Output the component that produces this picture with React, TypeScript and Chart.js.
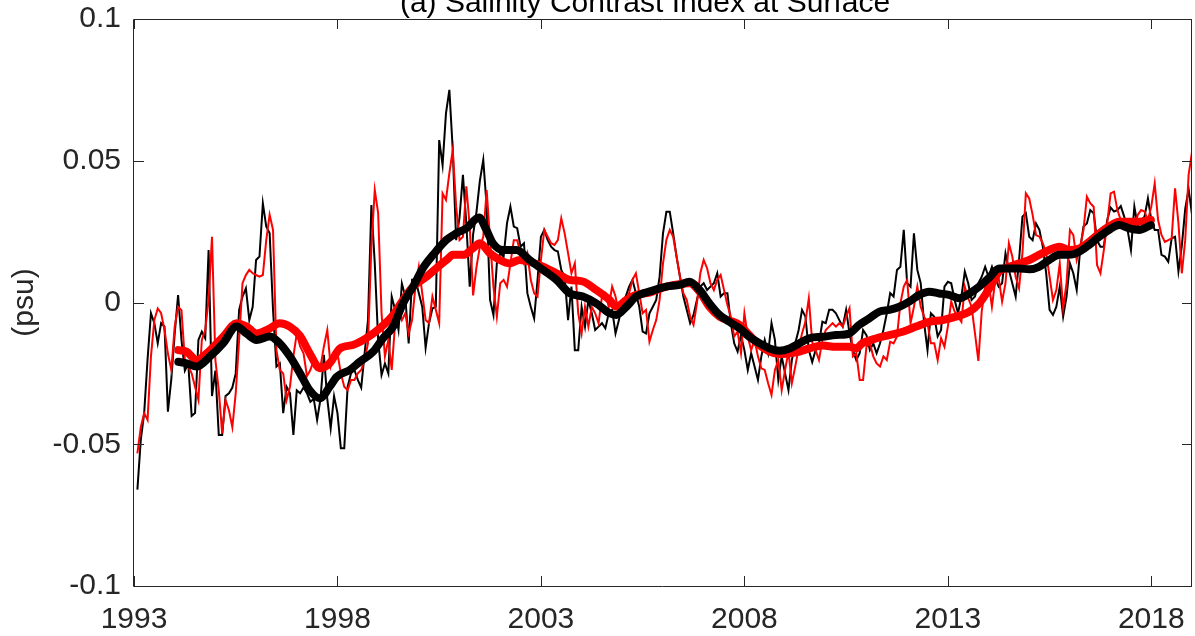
import { useEffect, useRef } from 'react';
import { Chart, registerables } from 'chart.js';

Chart.register(...registerables);

const TITLE = '(a) Salinity Contrast Index at Surface';
const Y_TITLE = '(psu)';
const X_MIN = 1993;
const X_MAX = 2019;
const Y_MIN = -0.1;
const Y_MAX = 0.1;
const xTickValues = [1993, 1998, 2003, 2008, 2013, 2018];
const yTickValues = [-0.1, -0.05, 0, 0.05, 0.1];
const yTickLabels = ['-0.1', '-0.05', '0', '0.05', '0.1'];

// Monthly series, first value = first month of 1993
const MONTHLY_START = 1993;

const blackMonthly = [
  -0.066, -0.0485, -0.039, -0.020, -0.0038, -0.0073, -0.0144, -0.0073, -0.0085, -0.0385, -0.027, -0.011,
  0.0026, -0.0132, -0.024, -0.0215, -0.040, -0.039, -0.0132, -0.0103, -0.0126, 0.0185, -0.033, -0.024,
  -0.0467, -0.0467, -0.033, -0.032, -0.030, -0.025, -0.0026, 0.0021, 0.005, -0.0062, -0.0015, 0.015,
  0.0162, 0.035, 0.0268, 0.0244, -0.0026, -0.0226, -0.0215, -0.039, -0.0297, -0.032, -0.0467, -0.031,
  -0.032, -0.030, -0.032, -0.035, -0.034, -0.0414, -0.034, -0.0185, -0.034, -0.0444, -0.033, -0.039,
  -0.0514, -0.0514, -0.0297, -0.025, -0.0238, -0.0273, -0.030, -0.018, -0.0062, 0.0344, 0.0138, -0.0132,
  -0.0256, -0.0215, -0.025, 0.0021, -0.0026, -0.0097, 0.0067, 0.0021, -0.0144, 0.008, 0.008, 0.0033,
  -0.0015, -0.016, -0.0073, -0.0021, -0.0015, 0.0573, 0.0485, 0.0667, 0.075, 0.0538, 0.022, 0.030,
  0.045, 0.0279, 0.0056, 0.024, 0.032, 0.043, 0.0503, 0.0338, 0.0009, -0.0044, 0.0138, 0.0174,
  0.0162, 0.028, 0.0338, 0.0268, 0.0262, 0.0197, 0.0209, 0.0033, -0.0015, -0.0056, 0.008, 0.0232,
  0.0256, 0.022, 0.0197, 0.0185, 0.018, 0.0115, 0.0091, -0.0062, 0.0056, -0.0168, -0.0168, -0.0015,
  -0.0085, 0.0009, -0.0038, -0.0097, -0.0085, -0.0073, -0.0091, -0.0038, -0.0026, -0.0109, -0.0062, -0.0003,
  0.0021, 0.0056, 0.008, 0.0033, -0.0015, -0.0103, -0.0109, -0.0038, -0.0015, 0.0009, 0.0091, 0.0244,
  0.032, 0.032, 0.0244, 0.0162, 0.0091, 0.0021, -0.0026, -0.0073, -0.0044, 0.0009, 0.0056, 0.0068,
  0.0044, 0.0056, 0.0068, 0.0103, 0.0021, 0.0033, 0.0033, -0.0073, -0.0144, -0.0173, -0.0115, -0.0168,
  -0.0238, -0.0179, -0.0226, -0.0273, -0.019, -0.0132, -0.0179, -0.0073, -0.0132, -0.0273, -0.019, -0.025,
  -0.0309, -0.0203, -0.0144, -0.0097, -0.0026, -0.005, -0.0168, -0.021, -0.0168, -0.0144, -0.0068, -0.0073,
  -0.0026, -0.0026, -0.0038, -0.0062, -0.0085, -0.0026, -0.0109, -0.0168, -0.0203, -0.0179, -0.0097, -0.0115,
  -0.0168, -0.0144, -0.0179, -0.0144, -0.0097, -0.0038, 0.0033, 0.0021, 0.0115, 0.0126, 0.0256, 0.0068,
  0.0056, 0.0244, 0.0115, 0.0068, -0.0073, -0.0168, -0.0038, -0.005, -0.012, -0.0097, 0.0056, 0.0073,
  0.0068, 0.0009, -0.0038, 0.0021, 0.0109, 0.0068, 0.0009, 0.0021, 0.0068, 0.0091, 0.0126, 0.0091,
  0.0126, 0.0085, 0.0056, 0.0068, 0.0173, 0.0115, 0.0068, 0.0021, 0.015, 0.0303, 0.0315, 0.0232,
  0.022, 0.0279, 0.0256, 0.0197, 0.0103, -0.0026, -0.0044, -0.0015, 0.0056, -0.005, 0.0021, 0.0138,
  0.0103, 0.0044, 0.0185, 0.0268, 0.0279, 0.0326, 0.0315, 0.022, 0.0197, 0.0197, 0.0291, 0.0335,
  0.0321, 0.0326, 0.034, 0.0303, 0.0256, 0.0185, 0.0338, 0.0268, 0.0291, 0.0303, 0.0367, 0.0291,
  0.0256, 0.0256, 0.0168, 0.0162, 0.0144, 0.0226, 0.0232, 0.011, 0.020, 0.033, 0.040, 0.031,
];

const redMonthly = [
  -0.0532, -0.044, -0.039, -0.0414, -0.019, -0.0062, -0.0021, -0.0038, -0.0097, -0.018, -0.0238, -0.0085,
  -0.0015, -0.0027, -0.0203, -0.0226, -0.025, -0.0297, -0.0344, -0.0132, -0.0097, 0.0009, 0.0232, -0.0203,
  -0.031, -0.0462, -0.0344, -0.038, -0.044, -0.032, -0.0132, 0.0068, 0.0097, 0.0115, 0.0103, 0.0097,
  0.0091, 0.0097, 0.022, 0.031, 0.0256, -0.0168, -0.0238, -0.025, -0.0344, -0.0297, -0.019, -0.0109,
  -0.0155, -0.0179, -0.026, -0.0238, -0.0203, -0.0226, -0.0226, -0.0155, -0.0097, -0.0226, -0.019, -0.0179,
  -0.025, -0.0297, -0.0309, -0.0273, -0.0273, -0.025, -0.0238, -0.0203, -0.0144, 0.0197, 0.0397, 0.0315,
  -0.0038, -0.019, -0.0132, -0.0238, -0.0073, -0.0026, -0.0062, -0.0038, -0.0109, -0.0062, 0.0056, 0.0126,
  0.0033, -0.0062, -0.0073, 0.0021, -0.0026, -0.0073, 0.0385, 0.0362, 0.0456, 0.0538, 0.0338, 0.022,
  0.0232, 0.041, 0.0268, 0.0025, 0.0126, 0.0197, 0.0232, 0.0397, 0.022, 0.0056, -0.005, 0.0068,
  0.008, 0.0056, 0.0138, 0.022, 0.022, 0.0174, 0.0138, 0.0174, 0.008, 0.0033, 0.0021, 0.015,
  0.0256, 0.0232, 0.0209, 0.0203, 0.022, 0.0297, 0.0244, 0.0174, 0.0103, 0.0138, -0.0038, -0.0109,
  -0.0015, -0.0085, -0.0015, -0.0038, -0.0073, 0.0021, 0.0033, -0.0015, 0.0056, 0.0021, -0.0038, -0.0015,
  -0.0003, 0.0033, 0.008, 0.0103, 0.0033, -0.0038, -0.0026, -0.0138, -0.0097, -0.0062, 0.0009, 0.0138,
  0.0221, 0.0256, 0.0232, 0.0162, 0.0091, 0.0033, 0.0009, -0.005, -0.0079, -0.0003, 0.0103, 0.015,
  0.0121, 0.0068, 0.0044, 0.008, 0.0097, 0.0044, -0.0009, -0.005, -0.012, -0.0103, -0.0179, -0.0038,
  -0.012, -0.0168, -0.0132, -0.019, -0.0232, -0.0238, -0.0285, -0.0326, -0.0238, -0.0203, -0.0309, -0.0238,
  -0.0173, -0.0285, -0.0226, -0.0162, -0.0109, -0.0068, 0.0015, -0.014, -0.0168, -0.0203, -0.0132, -0.0097,
  -0.0085, -0.0073, -0.0085, -0.0073, -0.0085, -0.005, -0.002, -0.019, -0.0179, -0.0273, -0.0273, -0.0156,
  -0.0144, -0.019, -0.0215, -0.0226, -0.019, -0.0203, -0.0138, -0.0144, -0.012, -0.0003, 0.0056, 0.008,
  -0.0073, -0.0015, 0.0056, -0.0015, -0.005, -0.0073, -0.0144, -0.0144, -0.0203, -0.0126, -0.0156, -0.0085,
  0.0003, -0.0032, -0.005, -0.0068, 0.0056, 0.0015, -0.0015, -0.0109, -0.0206, -0.003, 0.0056, 0.0073,
  -0.0015, 0.008, 0.0085, 0.0003, 0.0068, 0.0209, 0.0162, 0.0091, 0.005, 0.0174, 0.0385, 0.0367,
  0.0309, 0.0238, 0.0232, 0.0209, 0.0174, 0.0091, 0.0009, 0.0044, 0.0138, -0.0021, 0.0068, 0.0256,
  0.0238, 0.015, 0.0197, 0.0256, 0.0373, 0.035, 0.0338, 0.0132, 0.0103, 0.0185, 0.0279, 0.0385,
  0.0391, 0.0326, 0.0291, 0.0279, 0.0291, 0.0291, 0.0268, 0.0309, 0.0326, 0.0321, 0.0291, 0.0338,
  0.042, 0.0291, 0.0238, 0.0214, 0.022, 0.0226, 0.0403, 0.028, 0.0103, 0.022, 0.045, 0.053,
];

// Smoothed (running-mean) curves
const blackSmoothYears = [
  1994.09, 1994.29, 1994.54, 1994.87, 1995.19, 1995.52, 1995.77, 1996.01, 1996.34, 1996.58, 1996.83,
  1997.08, 1997.32, 1997.57, 1997.81, 1997.98, 1998.30, 1998.55, 1998.88, 1999.12, 1999.37, 1999.61,
  1999.86, 2000.10, 2000.35, 2000.68, 2000.92, 2001.17, 2001.48, 2001.66, 2001.82, 2002.07, 2002.40,
  2002.72, 2003.05, 2003.38, 2003.70, 2004.03, 2004.36, 2004.69, 2004.85, 2005.10, 2005.34, 2005.70,
  2006.08, 2006.41, 2006.65, 2006.90, 2007.14, 2007.39, 2007.63, 2007.88, 2008.12, 2008.37, 2008.62,
  2008.86, 2009.11, 2009.35, 2009.60, 2009.92, 2010.25, 2010.58, 2010.82, 2011.07, 2011.32, 2011.56,
  2011.81, 2012.05, 2012.30, 2012.54, 2012.79, 2013.03, 2013.28, 2013.53, 2013.77, 2014.02, 2014.26,
  2014.51, 2014.75, 2015.00, 2015.24, 2015.49, 2015.74, 2015.98, 2016.23, 2016.47, 2016.72, 2016.96,
  2017.21, 2017.45, 2017.70, 2017.99,
];
const blackSmoothValues = [
  -0.0209, -0.0215, -0.0226, -0.019, -0.0144, -0.0085, -0.011, -0.0132, -0.012, -0.0144, -0.019,
  -0.025, -0.031, -0.0338, -0.0297, -0.0262, -0.0238, -0.0209, -0.0173, -0.0126, -0.0085, -0.0003,
  0.0056, 0.0121, 0.0168, 0.0221, 0.0244, 0.0262, 0.0300, 0.0256, 0.0209, 0.0185, 0.0185,
  0.015, 0.0115, 0.008, 0.0033, 0.0021, -0.0003, -0.0038, -0.0044, -0.0015, 0.0021, 0.004,
  0.0056, 0.0062, 0.0073, 0.0044, -0.0003, -0.0044, -0.0068, -0.0091, -0.0121, -0.0144, -0.0162,
  -0.017, -0.0162, -0.0144, -0.0126, -0.0121, -0.0115, -0.0109, -0.0079, -0.0056, -0.0032, -0.0026,
  -0.0015, 0.0003, 0.0027, 0.0038, 0.0032, 0.0027, 0.0015, 0.0032, 0.0056, 0.0088, 0.012,
  0.012, 0.012, 0.0117, 0.0126, 0.015, 0.0168, 0.0168, 0.0179, 0.0203, 0.0232, 0.0256,
  0.0273, 0.0262, 0.0256, 0.0273,
];

const redSmoothYears = [
  1994.09, 1994.29, 1994.54, 1994.87, 1995.19, 1995.52, 1995.77, 1996.01, 1996.34, 1996.58, 1996.83,
  1997.08, 1997.32, 1997.57, 1997.81, 1998.06, 1998.38, 1998.71, 1999.04, 1999.37, 1999.61, 1999.86,
  2000.19, 2000.43, 2000.68, 2000.84, 2001.09, 2001.33, 2001.50, 2001.74, 2001.99, 2002.23, 2002.48,
  2002.72, 2003.05, 2003.38, 2003.70, 2004.03, 2004.36, 2004.69, 2004.85, 2005.10, 2005.34, 2005.67,
  2006.08, 2006.65, 2006.90, 2007.14, 2007.39, 2007.88, 2008.12, 2008.37, 2008.62, 2008.86, 2009.11,
  2009.35, 2009.60, 2009.92, 2010.25, 2010.58, 2010.74, 2010.90, 2011.23, 2011.56, 2011.89, 2012.22,
  2012.54, 2012.87, 2013.20, 2013.53, 2013.77, 2014.02, 2014.26, 2014.51, 2014.75, 2015.00, 2015.24,
  2015.49, 2015.74, 2015.98, 2016.23, 2016.47, 2016.72, 2016.96, 2017.21, 2017.45, 2017.70, 2017.99,
];
const redSmoothValues = [
  -0.0168, -0.0173, -0.0203, -0.0168, -0.0121, -0.0073, -0.0085, -0.0109, -0.0091, -0.0073, -0.0085,
  -0.0118, -0.018, -0.0232, -0.0214, -0.0162, -0.015, -0.0126, -0.0091, -0.0044, 0.0009, 0.0056,
  0.0091, 0.0121, 0.015, 0.0168, 0.0168, 0.0191, 0.0209, 0.0174, 0.015, 0.0138, 0.015,
  0.0144, 0.0126, 0.0103, 0.008, 0.0074, 0.0044, 0.0009, -0.0015, 0.0009, 0.0027, 0.0035,
  0.0056, 0.0068, 0.0038, -0.0015, -0.005, -0.0079, -0.0115, -0.015, -0.0173, -0.0182, -0.0179,
  -0.0173, -0.0162, -0.0152, -0.0156, -0.0156, -0.0162, -0.0144, -0.0127, -0.0115, -0.0103, -0.0085,
  -0.0068, -0.0062, -0.005, -0.0032, -0.0003, 0.005, 0.0109, 0.0126, 0.0138, 0.015, 0.0168,
  0.0185, 0.0197, 0.0185, 0.0191, 0.0214, 0.0244, 0.0268, 0.0285, 0.0285, 0.0285, 0.0291,
];

const FONT_FAMILY = '"Liberation Sans", Arial, Helvetica, sans-serif';
const TEXT_COLOR = '#262626';
const AXIS_COLOR = '#262626';

const toMonthlyPoints = (vals: number[]) =>
  vals.map((v, i) => ({ x: MONTHLY_START + (i + 1) / 12, y: v }));
const toPoints = (xs: number[], ys: number[]) => xs.map((x, i) => ({ x, y: ys[i] }));

const matlabAxesPlugin = {
  id: 'matlabAxes',
  afterDatasetsDraw(chart: any) {
    const { ctx, chartArea, scales } = chart;
    const { left, right, top, bottom } = chartArea;
    const xs = scales.x;
    const ys = scales.y;
    const tickLen = 10;
    ctx.save();
    ctx.strokeStyle = AXIS_COLOR;
    ctx.lineWidth = 1;
    ctx.beginPath();
    ctx.rect(Math.round(left) - 0.5, Math.round(top) + 0.5, Math.round(right - left), Math.round(bottom - top));
    ctx.stroke();
    ctx.beginPath();
    xTickValues.forEach((v) => {
      const px = Math.round(xs.getPixelForValue(v)) + 0.5;
      ctx.moveTo(px, bottom);
      ctx.lineTo(px, bottom - tickLen);
      ctx.moveTo(px, top);
      ctx.lineTo(px, top + tickLen);
    });
    yTickValues.forEach((v) => {
      const py = Math.round(ys.getPixelForValue(v)) + 0.5;
      ctx.moveTo(left, py);
      ctx.lineTo(left + tickLen, py);
      ctx.moveTo(right, py);
      ctx.lineTo(right - tickLen, py);
    });
    ctx.stroke();
    // Title (partially cut at the top of the figure)
    ctx.fillStyle = '#000';
    ctx.font = `30px ${FONT_FAMILY}`;
    ctx.textAlign = 'center';
    ctx.textBaseline = 'alphabetic';
    ctx.fillText(TITLE, 645, 12);
    ctx.restore();
  },
};

export default function App() {
  const canvasRef = useRef<HTMLCanvasElement | null>(null);

  useEffect(() => {
    if (!canvasRef.current) return;
    const chart = new Chart(canvasRef.current, {
      type: 'line',
      data: {
        datasets: [
          {
            label: 'black smooth',
            data: toPoints(blackSmoothYears, blackSmoothValues),
            borderColor: '#000000',
            borderWidth: 8,
            pointRadius: 0,
            cubicInterpolationMode: 'monotone',
            borderCapStyle: 'round',
            borderJoinStyle: 'round',
            fill: false,
          },
          {
            label: 'red smooth',
            data: toPoints(redSmoothYears, redSmoothValues),
            borderColor: '#ff0000',
            borderWidth: 8,
            pointRadius: 0,
            cubicInterpolationMode: 'monotone',
            borderCapStyle: 'round',
            borderJoinStyle: 'round',
            fill: false,
          },
          {
            label: 'red monthly',
            data: toMonthlyPoints(redMonthly),
            borderColor: '#ff0000',
            borderWidth: 2,
            pointRadius: 0,
            tension: 0,
            fill: false,
          },
          {
            label: 'black monthly',
            data: toMonthlyPoints(blackMonthly),
            borderColor: '#000000',
            borderWidth: 2,
            pointRadius: 0,
            tension: 0,
            fill: false,
          },
        ] as any,
      },
      options: {
        animation: false,
        responsive: false,
        devicePixelRatio: 1,
        events: [],
        layout: { padding: { top: 19, right: 3, left: 0, bottom: 0 } },
        plugins: {
          legend: { display: false },
          tooltip: { enabled: false },
          title: { display: false },
        },
        datasets: { line: { clip: 0 } as any },
        scales: {
          x: {
            type: 'linear',
            min: X_MIN,
            max: X_MAX,
            grid: { display: false, drawTicks: false },
            border: { display: false },
            afterBuildTicks: (scale: any) => {
              scale.ticks = xTickValues.map((v) => ({ value: v }));
            },
            afterFit: (scale: any) => {
              scale.height = 50;
              scale.paddingLeft = 0;
              scale.paddingRight = 0;
              scale.paddingTop = 0;
              scale.paddingBottom = 0;
            },
            ticks: {
              autoSkip: false,
              maxRotation: 0,
              minRotation: 0,
              padding: 16,
              color: TEXT_COLOR,
              font: { family: FONT_FAMILY, size: 30, lineHeight: 1.2 },
              callback: (v: any) => String(v),
            },
          },
          y: {
            type: 'linear',
            min: Y_MIN,
            max: Y_MAX,
            grid: { display: false, drawTicks: false },
            border: { display: false },
            afterBuildTicks: (scale: any) => {
              scale.ticks = yTickValues.map((v) => ({ value: v }));
            },
            afterFit: (scale: any) => {
              scale.width = 134;
              scale.paddingLeft = 0;
              scale.paddingRight = 0;
              scale.paddingTop = 0;
              scale.paddingBottom = 0;
            },
            ticks: {
              autoSkip: false,
              padding: 13,
              color: TEXT_COLOR,
              font: { family: FONT_FAMILY, size: 30, lineHeight: 1.2 },
              callback: (_v: any, i: number) => yTickLabels[i],
            },
            title: {
              display: true,
              text: Y_TITLE,
              color: TEXT_COLOR,
              font: { family: FONT_FAMILY, size: 30, lineHeight: 1.2 },
              padding: { top: 7, bottom: 0 },
            },
          },
        },
      } as any,
      plugins: [matlabAxesPlugin],
    });
    return () => chart.destroy();
  }, []);

  return (
    <div style={{ position: 'fixed', left: 0, top: 0, width: 1195, height: 636, background: '#fff' }}>
      <canvas ref={canvasRef} width={1195} height={636} style={{ display: 'block' }} />
    </div>
  );
}
